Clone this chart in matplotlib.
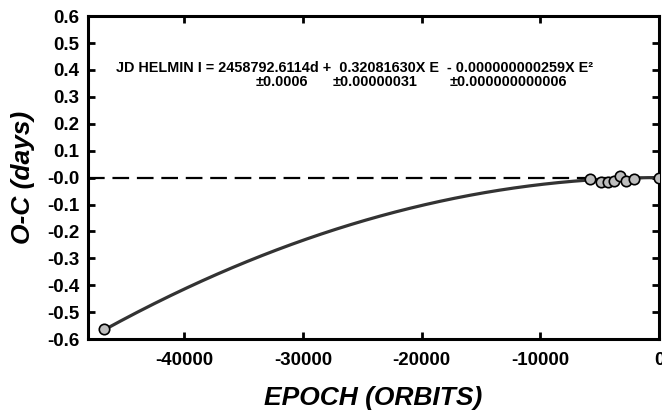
import numpy as np
import matplotlib.pyplot as plt

plt.rcParams['font.family'] = ['Liberation Sans', 'DejaVu Sans']
plt.rcParams['axes.unicode_minus'] = False

# observed O-C values (epoch, days)
epoch = [-46750, -5800, -4880, -4290, -3780, -3270, -2770, -2090, 0]
oc = [-0.561, -0.004, -0.015, -0.015, -0.011, 0.007, -0.011, -0.007, 0.0]

# quadratic term of the ephemeris fit (days / orbit^2)
quad_coef = -0.000000000259

yticks = np.round(np.arange(-0.6, 0.61, 0.1), 1)
xticks = [-40000, -30000, -20000, -10000, 0]

fig = plt.figure(figsize=(6.62, 4.13), dpi=100)
ax = fig.add_axes([0.133, 0.179, 0.8625, 0.782])

# fit curve through the quadratic ephemeris
e_fit = np.linspace(epoch[0], 0, 300)
ax.plot(e_fit, np.polyval([quad_coef, 0, 0], e_fit), color='#333333', lw=2.3, zorder=2)

ax.axhline(0, color='black', lw=1.6, dashes=(7.5, 3.5), zorder=1)

ax.plot(epoch, oc, 'o', ms=7.5, mfc='#bdbdbd', mec='black', mew=1.2, zorder=3)

ax.set_xlim(-48100, 0)
ax.set_ylim(-0.6, 0.6)
ax.set_xticks(xticks)
ax.set_yticks(yticks)
ax.set_yticklabels(['%.1f' % v for v in yticks])

for s in ax.spines.values():
    s.set_linewidth(2.2)
ax.tick_params(direction='in', length=5, width=2, top=True, right=True, labelsize=13.5)
ax.tick_params(axis='x', pad=9)
ax.tick_params(axis='y', pad=6)
for lab in ax.get_xticklabels() + ax.get_yticklabels():
    lab.set_fontweight('bold')

ax.set_xlabel('EPOCH (ORBITS)', fontsize=19, fontweight='bold', style='italic')
ax.set_ylabel('O-C (days)', fontsize=19, fontweight='bold', style='italic')
ax.xaxis.set_label_coords(0.5, -0.145)
ax.yaxis.set_label_coords(-0.093, 0.5)

ax.text(0.049, 0.84, 'JD HELMIN I = 2458792.6114d +  0.32081630X E  - 0.000000000259X E\u00b2',
        transform=ax.transAxes, fontsize=10.4, fontweight='bold', va='center', ha='left')
ax.text(0.294, 0.795, '\u00b10.0006', transform=ax.transAxes, fontsize=10.4,
        fontweight='bold', va='center')
ax.text(0.429, 0.795, '\u00b10.00000031', transform=ax.transAxes, fontsize=10.4,
        fontweight='bold', va='center')
ax.text(0.634, 0.795, '\u00b10.000000000006', transform=ax.transAxes, fontsize=10.4,
        fontweight='bold', va='center')

fig.savefig('out.png', dpi=100)
